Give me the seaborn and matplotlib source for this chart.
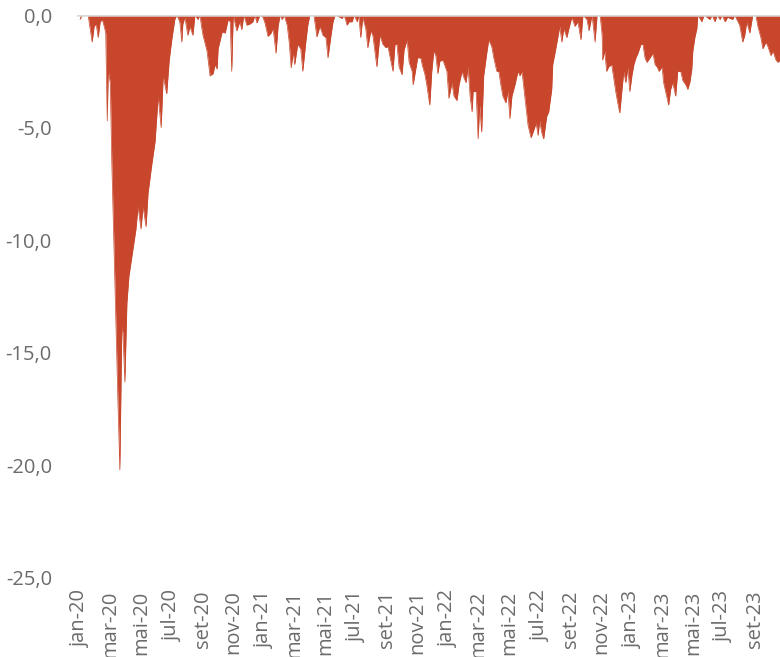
import matplotlib
matplotlib.use("Agg")
import matplotlib.pyplot as plt
import seaborn as sns
import pandas as pd

start_date = "2020-01-01"

day_offset = [
    0, 4, 16, 20, 24, 28, 32, 36, 40, 44, 48, 51, 54, 56, 60, 63, 67, 71, 75, 79,
    83, 85, 89, 93, 97, 103, 105, 111, 115, 121, 125, 131, 135, 142, 149, 155, 161, 165, 172, 177,
    182, 188, 192,
    198, 202, 204, 208, 214, 218, 224, 228, 234, 238, 241, 244, 252, 258, 264, 268, 272, 274, 282, 288,
    294, 298, 301, 304, 311, 317, 321, 325, 331, 337, 343, 347, 351, 357,
    363, 367, 373, 379, 383, 389, 393, 397, 401, 405, 411, 415, 419, 423, 426, 432, 438, 442, 448, 452, 456,
    464, 470, 476, 482, 488, 492, 498, 502, 506,
    520, 524, 530, 534, 540, 544, 550, 553, 557, 561,
    567, 571, 577, 581, 589, 595, 601, 607, 611, 615, 621, 625, 629, 633, 639, 643, 649, 653, 659, 661,
    667, 670, 676, 680, 684, 688, 694, 698, 702, 706, 710,
    714, 720, 728, 732, 738, 742, 748, 752, 758, 762, 766, 770, 774, 778, 780, 786, 790, 793, 797, 801,
    807, 811, 817, 821, 827, 831, 835, 839, 845, 849, 853, 857, 863, 869, 873, 877, 881, 887, 889, 895,
    899, 905, 909, 912, 916, 920, 926, 930, 936, 938, 944, 948, 952, 956, 960, 966, 970, 976, 982, 988,
    994, 998, 1006, 1010, 1016, 1022, 1026, 1032,
    1036, 1037, 1041, 1045, 1049, 1055, 1057, 1063, 1067, 1071, 1075, 1079, 1083, 1087, 1091, 1095, 1099,
    1103, 1107, 1113, 1117, 1121, 1125, 1131, 1137, 1141, 1145, 1149, 1155, 1158, 1164, 1168, 1172, 1176,
    1182, 1186, 1192, 1196, 1202, 1206, 1210, 1214, 1216, 1220, 1224, 1226,
    1234, 1238, 1250, 1254, 1260, 1264, 1270, 1274, 1280, 1285, 1295, 1299, 1309, 1315, 1319, 1323, 1329,
    1335, 1341, 1345, 1351, 1355, 1361, 1365, 1371, 1375, 1381, 1385, 1389,
]

drawdown = [
    -0.2, 0.0, 0.0, -0.6, -1.2, -0.5, -0.4, -1.0, -0.3, -0.2, -0.5, -0.8, -4.7, -2.5, -3.0, -6.5, -10.0, -13.5, -17.0, -20.2,
    -13.8, -14.1, -16.3, -12.8, -11.6, -10.7, -10.4, -9.5, -8.5, -9.5, -8.5, -9.4, -7.9, -6.7, -5.6, -3.6, -5.0, -2.7, -3.5, -2.0,
    -1.1, -0.2, 0.0,
    -0.3, -1.2, -0.4, -0.1, -0.9, -0.5, -0.9, 0.0, -0.2, 0.0, -0.5, -0.9, -1.6, -2.7, -2.6, -2.2, -2.4, -1.5, -0.75, -0.8,
    -0.2, -0.3, -2.5, 0.0, -0.7, -0.3, -0.65, 0.0, -0.45, -0.4, -0.3, 0.0, -0.35, 0.0,
    -0.1, -0.35, -0.95, -0.8, -0.6, -1.7, -0.5, 0.0, -0.2, 0.0, -0.45, -1.2, -2.35, -1.65, -2.2, -1.3, -1.5, -2.5, -1.2, -0.45, 0.0,
    0.0, -0.97, -0.5, -0.9, -1.0, -1.9, -0.9, -0.3, 0.0,
    -0.15, 0.0, -0.45, -0.3, -0.3, 0.0, -0.3, 0.0, -1.0, -0.1,
    -0.6, -1.45, -0.7, -0.9, -2.3, -0.9, -1.3, -1.45, -1.4, -1.85, -2.5, -1.3, -1.3, -2.3, -2.65, -1.55, -1.1, -2.1, -2.5, -3.1,
    -2.3, -1.9, -1.9, -2.3, -2.6, -3.1, -4.0, -2.5, -1.6, -1.8, -2.6,
    -2.05, -2.0, -2.5, -3.7, -3.0, -3.6, -3.8, -3.1, -2.5, -2.8, -3.0, -2.3, -3.6, -4.3, -3.4, -3.4, -5.5, -4.0, -5.2, -2.7,
    -1.7, -1.1, -1.4, -1.9, -2.5, -2.5, -3.1, -3.6, -3.9, -3.4, -4.6, -3.6, -3.1, -2.5, -2.7, -2.5, -3.3, -4.5, -4.9, -5.45,
    -5.2, -4.8, -5.35, -4.7, -5.2, -5.5, -4.5, -4.3, -3.3, -2.2, -1.5, -1.0, -0.5, -1.2, -0.6, -1.0, -0.6, -0.1, -0.5, -0.3,
    -1.1, 0.0, -0.2, -0.7, 0.0, -1.2, 0.0, 0.0,
    -0.9, -2.0, -1.6, -2.5, -2.3, -2.2, -2.5, -3.4, -3.9, -4.35, -3.4, -2.5, -3.0, -2.35, -3.4, -2.7, -2.2,
    -1.9, -1.7, -1.3, -1.3, -1.9, -2.1, -1.9, -1.7, -2.2, -2.3, -2.5, -2.3, -3.0, -3.6, -4.0, -3.3, -3.0,
    -3.6, -2.5, -2.5, -2.9, -3.1, -3.3, -3.0, -2.4, -1.6, -1.0, -0.6, 0.0,
    -0.3, 0.0, -0.2, 0.0, -0.3, 0.0, -0.2, 0.0, -0.3, -0.1, -0.2, 0.0, -0.45, -1.2, -0.9, -0.3, -0.8,
    0.0, 0.0, -0.5, -1.0, -1.5, -1.2, -1.4, -1.8, -1.6, -2.0, -2.1, -2.0,
]

tick_dates = [
    "2020-01-01", "2020-03-01", "2020-05-01", "2020-07-01", "2020-09-01", "2020-11-01",
    "2021-01-01", "2021-03-01", "2021-05-01", "2021-07-01", "2021-09-01", "2021-11-01",
    "2022-01-01", "2022-03-01", "2022-05-01", "2022-07-01", "2022-09-01", "2022-11-01",
    "2023-01-01", "2023-03-01", "2023-05-01", "2023-07-01", "2023-09-01",
]
tick_labels = [
    "jan-20", "mar-20", "mai-20", "jul-20", "set-20", "nov-20",
    "jan-21", "mar-21", "mai-21", "jul-21", "set-21", "nov-21",
    "jan-22", "mar-22", "mai-22", "jul-22", "set-22", "nov-22",
    "jan-23", "mar-23", "mai-23", "jul-23", "set-23",
]
y_ticks = [0, -5, -10, -15, -20, -25]
y_labels = ["0,0", "-5,0", "-10,0", "-15,0", "-20,0", "-25,0"]

RED = "#C8472C"
GRAY_TXT = "#6b6b6b"

df = pd.DataFrame({
    "date": pd.Timestamp(start_date) + pd.to_timedelta(day_offset, unit="D"),
    "drawdown": drawdown,
})

sns.set_theme(style="white")
plt.rcParams["font.family"] = ["Open Sans", "DejaVu Sans"]

W, H = 780, 657
fig = plt.figure(figsize=(W / 100, H / 100), dpi=100)
ax = fig.add_axes([77 / W, 1 - 578 / H, 1 - 77 / W, (578 - 15) / H])

ax.fill_between(df["date"], df["drawdown"], 0, color=RED, linewidth=0, zorder=2)
sns.lineplot(data=df, x="date", y="drawdown", ax=ax, color=RED, linewidth=0.5, zorder=2)
ax.axhline(0, color="#d9d9d9", linewidth=1.8, zorder=3)

ax.set_ylim(-25, 0)
ax.set_xlim(pd.Timestamp("2019-12-26"), pd.Timestamp("2023-10-21"))

ax.set_yticks(y_ticks)
ax.set_yticklabels(y_labels)
ax.set_xticks(pd.to_datetime(tick_dates))
ax.set_xticklabels(tick_labels, rotation=90)

ax.tick_params(axis="y", length=0, pad=18, labelsize=14.5, labelcolor=GRAY_TXT)
ax.tick_params(axis="x", length=0, pad=9, labelsize=14.5, labelcolor=GRAY_TXT)
for lbl in ax.get_xticklabels():
    lbl.set_verticalalignment("top")

ax.set_xlabel("")
ax.set_ylabel("")
for s in ax.spines.values():
    s.set_visible(False)
ax.grid(False)

fig.savefig("out.png", dpi=100)
